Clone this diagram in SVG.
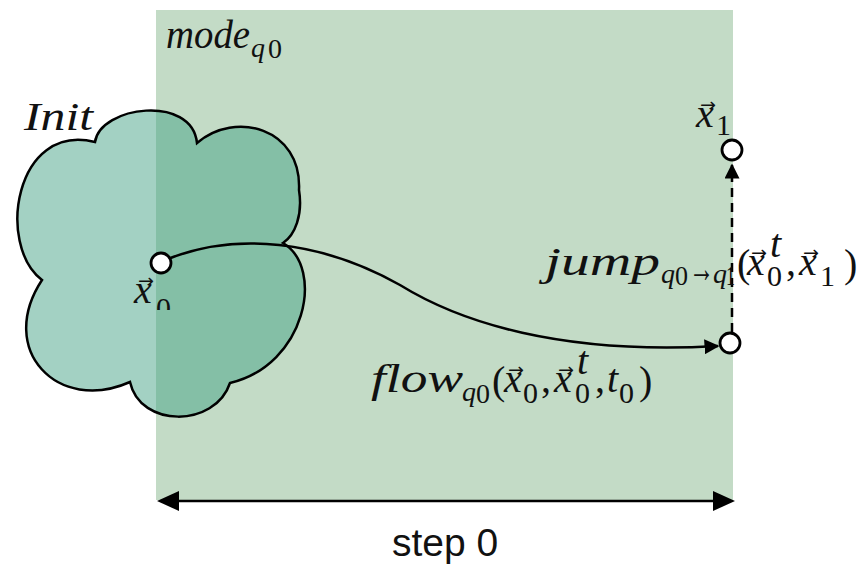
<svg xmlns="http://www.w3.org/2000/svg" width="867" height="569" viewBox="0 0 867 569">
<style>
.mi{font-family:"Liberation Serif",serif;font-style:italic;font-size:40px;fill:#111}
.mr{font-family:"Liberation Serif",serif;font-style:normal;font-size:40px;fill:#111}
.s{font-size:30px}
.ss{font-size:28px}
.v{font-family:"DejaVu Sans",sans-serif;font-style:normal;font-size:18px;fill:#111}
.lbl{font-family:"Liberation Sans",Arial,sans-serif;font-size:39px;fill:#111}
.wire{fill:none;stroke:#000;stroke-width:2.5}
.pt{fill:#fff;stroke:#000;stroke-width:2.8}
</style>
<defs>
<path id="cloudPath" d="M95,142 C100,106 192,94 197,143 C235,110 302,128 299,190 C303,215 295,235 283,243 C325,268 306,365 230,383 C215,428 140,428 130,382 C58,414 -4,350 42,280 C-4,245 15,122 95,142 Z"/>
<clipPath id="inRect"><rect x="156" y="10" width="577" height="490"/></clipPath>
<clipPath id="x0clip"><rect x="100" y="270" width="100" height="40"/></clipPath>
<marker id="tri" viewBox="0 0 10 10" refX="9" refY="5" markerWidth="6" markerHeight="6" markerUnits="strokeWidth" orient="auto">
<path d="M0,0 L10,5 L0,10 Z" fill="#000"/>
</marker>
</defs>

<g id="mode">
<rect x="156" y="10" width="577" height="490" fill="#c3dbc6"/>
<text class="mi" x="166" y="48" textLength="84" lengthAdjust="spacingAndGlyphs">mode</text>
<text class="mi ss" x="251" y="57">q</text>
<text class="mr ss" x="268" y="58">0</text>
</g>

<g id="init">
<use href="#cloudPath" fill="#a3d1c3"/>
<use href="#cloudPath" fill="#84bfa6" clip-path="url(#inRect)"/>
<use href="#cloudPath" fill="none" stroke="#000" stroke-width="2.5"/>
<text class="mi" x="24" y="130" textLength="69" lengthAdjust="spacingAndGlyphs">Init</text>
</g>

<g id="connectors">
<path class="wire" d="M168,259 C235,232 320,240 400,285 C460,322 560,355 718,346" marker-end="url(#tri)"/>
<path class="wire" d="M732,332 L732,165" stroke-dasharray="9,6" marker-end="url(#tri)"/>
<line class="wire" x1="176" y1="501" x2="714" y2="501" stroke-width="2.2"/>
<path d="M157,501 L179,491 L179,511 Z" fill="#000"/>
<path d="M735,501 L713,491 L713,511 Z" fill="#000"/>
</g>

<g id="x0">
<circle class="pt" cx="161" cy="263" r="10"/>
<g clip-path="url(#x0clip)">
<text class="mi" x="134" y="303">x</text>
<text class="v" x="138" y="287" textLength="16" lengthAdjust="spacingAndGlyphs">→</text>
<text class="mr s" x="156" y="318">0</text>
</g>
</g>

<g id="xt">
<circle class="pt" cx="730" cy="343" r="10"/>
</g>

<g id="x1">
<circle class="pt" cx="732" cy="150" r="10"/>
<text class="mi" x="696" y="127">x</text>
<text class="v" x="700" y="111" textLength="16" lengthAdjust="spacingAndGlyphs">→</text>
<text class="mr s" x="716" y="135">1</text>
</g>

<g id="jumpLabel">
<text class="mi" x="545" y="275" textLength="115" lengthAdjust="spacingAndGlyphs">jump</text>
<text class="mi ss" x="661" y="283">q</text>
<text class="mr ss" x="675" y="285" textLength="13" lengthAdjust="spacingAndGlyphs">0</text>
<text class="mr" x="689" y="282" font-size="22" textLength="25" lengthAdjust="spacingAndGlyphs">→</text>
<text class="mi ss" x="713" y="283">q</text>
<text class="mr ss" x="726" y="285" textLength="9" lengthAdjust="spacingAndGlyphs">1</text>
<text class="mr" x="737" y="277">(</text>
<text class="mi" x="747" y="275">x</text>
<text class="v" x="751" y="259" textLength="16" lengthAdjust="spacingAndGlyphs">→</text>
<text class="mi" x="770" y="257" font-size="24">t</text>
<text class="mr s" x="767" y="286">0</text>
<text class="mr" x="786" y="275">,</text>
<text class="mi" x="799" y="275">x</text>
<text class="v" x="803" y="259" textLength="16" lengthAdjust="spacingAndGlyphs">→</text>
<text class="mr s" x="820" y="286">1</text>
<text class="mr" x="844" y="277">)</text>
</g>

<g id="flowLabel">
<text class="mi" x="371" y="392" textLength="92" lengthAdjust="spacingAndGlyphs">flow</text>
<text class="mi ss" x="462" y="401">q</text>
<text class="mr ss" x="476" y="403">0</text>
<text class="mr" x="492" y="394">(</text>
<text class="mi" x="504" y="392">x</text>
<text class="v" x="508" y="376" textLength="16" lengthAdjust="spacingAndGlyphs">→</text>
<text class="mr s" x="523" y="403">0</text>
<text class="mr" x="541" y="392">,</text>
<text class="mi" x="554" y="392">x</text>
<text class="v" x="558" y="376" textLength="16" lengthAdjust="spacingAndGlyphs">→</text>
<text class="mi" x="577" y="374" font-size="24">t</text>
<text class="mr s" x="575" y="403">0</text>
<text class="mr" x="595" y="392">,</text>
<text class="mi" x="607" y="392">t</text>
<text class="mr s" x="619" y="403">0</text>
<text class="mr" x="639" y="394">)</text>
</g>

<g id="step">
<text class="lbl" x="445" y="556" text-anchor="middle">step 0</text>
</g>
</svg>
